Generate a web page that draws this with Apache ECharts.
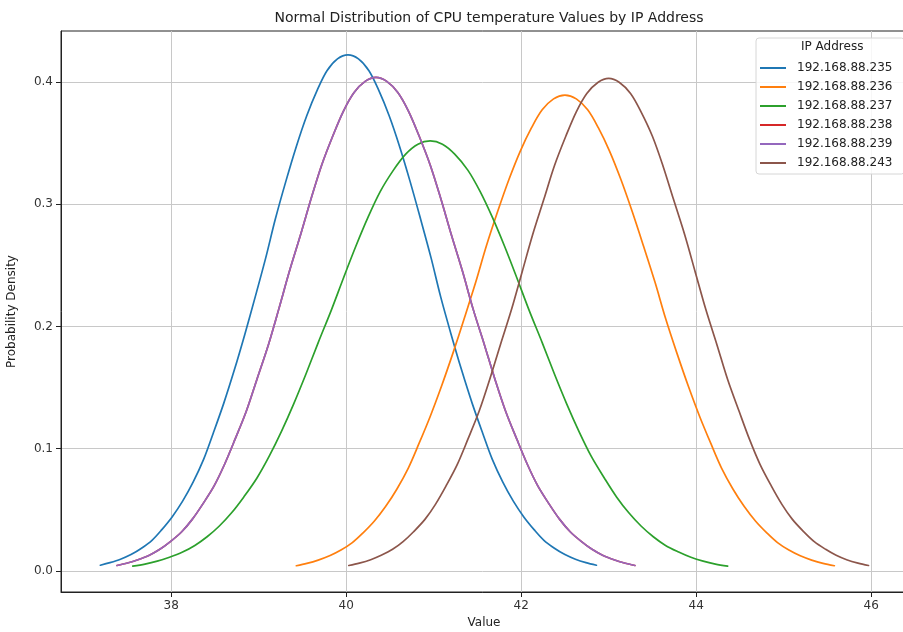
<!DOCTYPE html>
<html>
<head>
<meta charset="utf-8">
<script src="https://cdn.jsdelivr.net/npm/echarts@6/dist/echarts.min.js"></script>
<style>html,body{margin:0;padding:0;background:#fff;}#chart{width:903px;height:632px;}</style>
</head>
<body>
<div id="chart"></div>
<script>
const seriesNames = ['192.168.88.235','192.168.88.236','192.168.88.237','192.168.88.238','192.168.88.239','192.168.88.243'];
const xTicks = [38, 40, 42, 44, 46];
const yTicks = [0, 0.1, 0.2, 0.3, 0.4];

const x235 = [37.19,37.30,37.42,37.54,37.66,37.78,37.89,38.01,38.13,38.25,38.37,38.48,38.60,38.72,38.84,38.96,39.08,39.19,39.31,39.43,39.55,39.67,39.78,39.90,
  40.02,
  40.14,40.26,40.37,40.49,40.61,40.73,40.85,40.97,41.08,41.20,41.32,41.44,41.56,41.67,41.79,41.91,42.03,42.15,42.26,42.38,42.50,42.62,42.74,42.86];
const y235 = [0.0047,0.0068,0.0096,0.0134,0.0186,0.0251,0.0336,0.0442,0.0571,0.0727,0.0913,0.1127,0.1371,0.1641,0.1933,0.2242,0.2561,0.2879,0.3187,0.3473,0.3726,0.3935,0.4092,0.4189,
  0.4222,
  0.4189,0.4092,0.3935,0.3726,0.3473,0.3187,0.2879,0.2561,0.2242,0.1933,0.1641,0.1371,0.1127,0.0913,0.0727,0.0571,0.0442,0.0336,0.0251,0.0186,0.0134,0.0096,0.0068,0.0047];

const x236 = [39.43,39.55,39.68,39.81,39.94,40.07,40.19,40.32,40.45,40.58,40.71,40.83,40.96,41.09,41.22,41.35,41.48,41.60,41.73,41.86,41.99,42.12,42.24,42.37,
  42.50,
  42.63,42.76,42.88,43.01,43.14,43.27,43.40,43.53,43.65,43.78,43.91,44.04,44.17,44.29,44.42,44.55,44.68,44.81,44.93,45.06,45.19,45.32,45.45,45.58];
const y236 = [0.0043,0.0062,0.0089,0.0124,0.0171,0.0232,0.0310,0.0407,0.0527,0.0671,0.0842,0.1039,0.1264,0.1513,0.1782,0.2067,0.2361,0.2654,0.2938,0.3202,0.3435,0.3628,0.3772,0.3862,
  0.3892,
  0.3862,0.3772,0.3628,0.3435,0.3202,0.2938,0.2654,0.2361,0.2067,0.1782,0.1513,0.1264,0.1039,0.0842,0.0671,0.0527,0.0407,0.0310,0.0232,0.0171,0.0124,0.0089,0.0062,0.0043];

const x237 = [37.56,37.70,37.84,37.98,38.13,38.27,38.41,38.55,38.69,38.83,38.98,39.12,39.26,39.40,39.54,39.68,39.83,39.97,40.11,40.25,40.39,40.54,40.68,40.82,
  40.96,
  41.10,41.24,41.39,41.53,41.67,41.81,41.95,42.09,42.24,42.38,42.52,42.66,42.80,42.95,43.09,43.23,43.37,43.51,43.65,43.80,43.94,44.08,44.22,44.36];
const y237 = [0.0039,0.0056,0.0080,0.0112,0.0155,0.0209,0.0280,0.0368,0.0476,0.0606,0.0761,0.0939,0.1142,0.1367,0.1611,0.1868,0.2134,0.2399,0.2656,0.2894,0.3105,0.3279,0.3410,0.3491,
  0.3518,
  0.3491,0.3410,0.3279,0.3105,0.2894,0.2656,0.2399,0.2134,0.1868,0.1611,0.1367,0.1142,0.0939,0.0761,0.0606,0.0476,0.0368,0.0280,0.0209,0.0155,0.0112,0.0080,0.0056,0.0039];

const x238 = [37.38,37.50,37.62,37.75,37.87,37.99,38.12,38.24,38.36,38.49,38.61,38.73,38.86,38.98,39.11,39.23,39.35,39.48,39.60,39.72,39.85,39.97,40.09,40.22,
  40.34,
  40.46,40.59,40.71,40.83,40.96,41.08,41.20,41.33,41.45,41.58,41.70,41.82,41.95,42.07,42.19,42.32,42.44,42.56,42.69,42.81,42.93,43.06,43.18,43.30];
const y238 = [0.0045,0.0065,0.0092,0.0129,0.0177,0.0240,0.0321,0.0422,0.0547,0.0696,0.0873,0.1078,0.1311,0.1569,0.1849,0.2144,0.2449,0.2754,0.3048,0.3321,0.3564,0.3764,0.3914,0.4007,
  0.4038,
  0.4007,0.3914,0.3764,0.3564,0.3321,0.3048,0.2754,0.2449,0.2144,0.1849,0.1569,0.1311,0.1078,0.0873,0.0696,0.0547,0.0422,0.0321,0.0240,0.0177,0.0129,0.0092,0.0065,0.0045];

const x239 = [37.38,37.50,37.62,37.75,37.87,37.99,38.12,38.24,38.36,38.49,38.61,38.73,38.86,38.98,39.11,39.23,39.35,39.48,39.60,39.72,39.85,39.97,40.09,40.22,
  40.34,
  40.46,40.59,40.71,40.83,40.96,41.08,41.20,41.33,41.45,41.58,41.70,41.82,41.95,42.07,42.19,42.32,42.44,42.56,42.69,42.81,42.93,43.06,43.18,43.30];
const y239 = [0.0045,0.0065,0.0092,0.0129,0.0177,0.0240,0.0321,0.0422,0.0547,0.0696,0.0873,0.1078,0.1311,0.1569,0.1849,0.2144,0.2449,0.2754,0.3048,0.3321,0.3564,0.3764,0.3914,0.4007,
  0.4038,
  0.4007,0.3914,0.3764,0.3564,0.3321,0.3048,0.2754,0.2449,0.2144,0.1849,0.1569,0.1311,0.1078,0.0873,0.0696,0.0547,0.0422,0.0321,0.0240,0.0177,0.0129,0.0092,0.0065,0.0045];

const x243 = [40.03,40.15,40.28,40.40,40.53,40.65,40.77,40.90,41.02,41.14,41.27,41.39,41.52,41.64,41.76,41.89,42.01,42.13,42.26,42.38,42.51,42.63,42.75,42.88,
  43.00,
  43.12,43.25,43.37,43.50,43.62,43.74,43.87,43.99,44.11,44.24,44.36,44.49,44.61,44.73,44.86,44.98,45.10,45.23,45.35,45.48,45.60,45.72,45.85,45.97];
const y243 = [0.0045,0.0064,0.0092,0.0128,0.0177,0.0240,0.0321,0.0422,0.0545,0.0694,0.0872,0.1076,0.1308,0.1566,0.1845,0.2140,0.2444,0.2748,0.3042,0.3315,0.3556,0.3756,0.3906,0.3998,
  0.4030,
  0.3998,0.3906,0.3756,0.3556,0.3315,0.3042,0.2748,0.2444,0.2140,0.1845,0.1566,0.1308,0.1076,0.0872,0.0694,0.0545,0.0422,0.0321,0.0240,0.0177,0.0128,0.0092,0.0064,0.0045];

const colors = ['#1f77b4','#ff7f0e','#2ca02c','#d62728','#9467bd','#8c564b'];
const xsAll = [x235, x236, x237, x238, x239, x243];
const ysAll = [y235, y236, y237, y238, y239, y243];

const FONT = 'DejaVu Sans';
const chart = echarts.init(document.getElementById('chart'), null, {renderer: 'canvas'});

const series = seriesNames.map((name, i) => ({
  name: name,
  type: 'line',
  data: xsAll[i].map((x, j) => [x, ysAll[i][j]]),
  smooth: 0.33,
  showSymbol: false,
  symbol: 'none',
  lineStyle: {width: 1.7, color: colors[i], join: 'round', cap: 'round'},
  itemStyle: {color: colors[i]},
  z: 3 + i
}));

chart.setOption({
  animation: false,
  backgroundColor: '#fff',
  color: colors,
  title: {
    text: 'Normal Distribution of CPU temperature Values by IP Address',
    left: 484, top: 6, textAlign: 'center',
    textStyle: {fontFamily: FONT, fontSize: 14, fontWeight: 'normal', color: '#222'}
  },
  grid: {left: 61, top: 31, width: 846, height: 561, outerBoundsMode: 'none', containLabel: false, show: true, borderColor: '#222', borderWidth: 1, backgroundColor: 'transparent'},
  xAxis: {
    type: 'value', min: 36.74, max: 46.41,
    name: 'Value', nameLocation: 'middle', nameGap: 24,
    nameTextStyle: {fontFamily: FONT, fontSize: 12, color: '#222'},
    axisLine: {show: true, onZero: false, lineStyle: {color: '#222', width: 1}},
    axisTick: {show: true, length: 5, lineStyle: {color: '#222'}, customValues: xTicks},
    axisLabel: {fontFamily: FONT, fontSize: 12, color: '#333', margin: 8, customValues: xTicks, showMinLabel: true, showMaxLabel: true},
    splitLine: {show: true, lineStyle: {color: '#c8c8c8', width: 1}}
  },
  yAxis: {
    type: 'value', min: -0.0172, max: 0.4417,
    name: 'Probability Density', nameLocation: 'middle', nameGap: 43,
    nameTextStyle: {fontFamily: FONT, fontSize: 12, color: '#222'},
    axisLine: {show: true, onZero: false, lineStyle: {color: '#222', width: 1}},
    axisTick: {show: true, length: 5, lineStyle: {color: '#222'}, customValues: yTicks},
    axisLabel: {fontFamily: FONT, fontSize: 12, color: '#333', margin: 8, customValues: yTicks, formatter: v => v.toFixed(1)},
    splitLine: {show: true, lineStyle: {color: '#c8c8c8', width: 1}}
  },
  legend: {
    orient: 'vertical', left: 756, top: 38,
    padding: [23, 12, 4, 4],
    itemGap: 5, itemWidth: 26, itemHeight: 2, icon: 'rect',
    backgroundColor: 'rgba(255,255,255,0.85)', borderColor: '#d6d6d6', borderWidth: 1, borderRadius: 3,
    textStyle: {fontFamily: FONT, fontSize: 12, color: '#222', lineHeight: 14, padding: [0, 0, 0, 6]},
    data: seriesNames
  },
  graphic: [{
    type: 'text', left: 801, top: 41, z: 100,
    style: {text: 'IP Address', font: '12px "DejaVu Sans"', fill: '#222'}
  }],
  series: series
});
</script>
</body>
</html>
